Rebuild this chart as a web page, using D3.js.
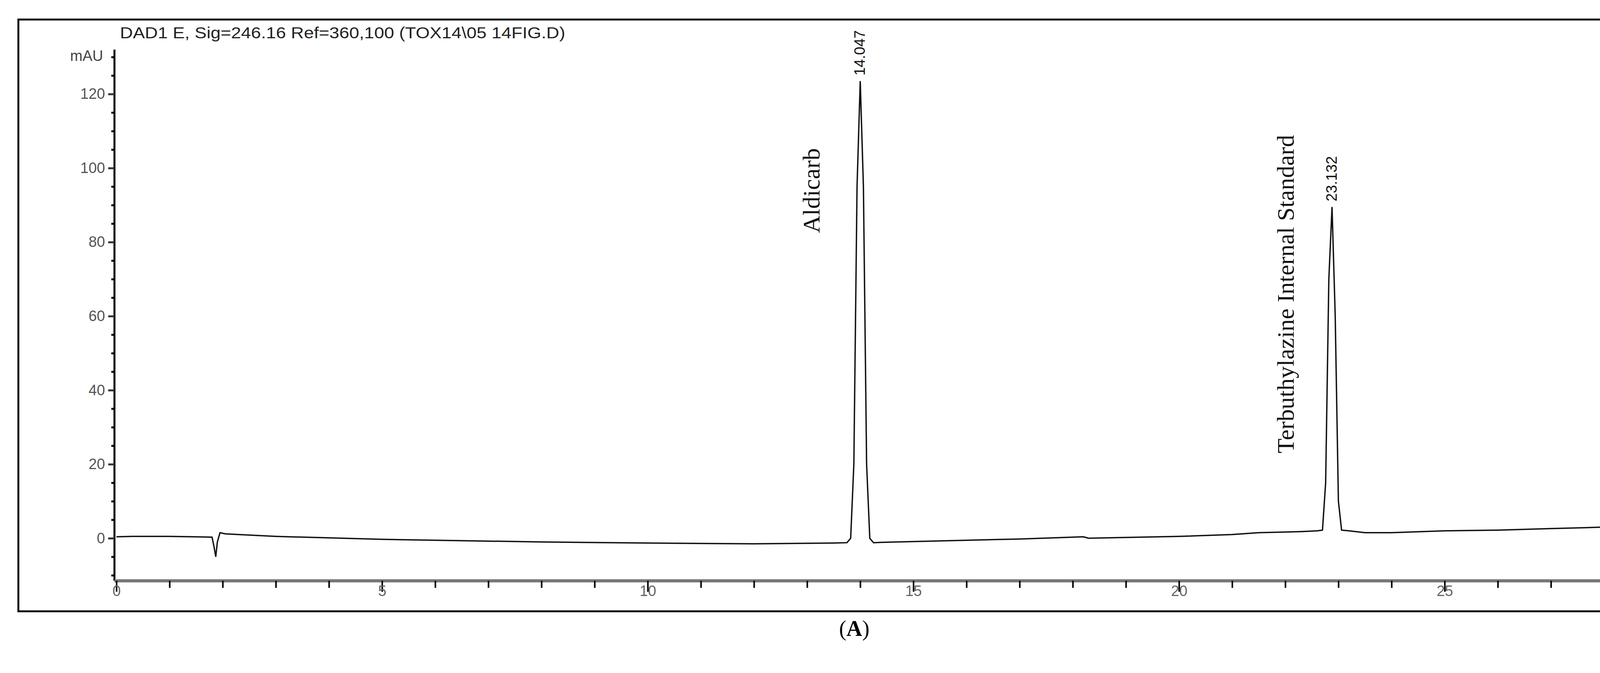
<!DOCTYPE html>
<html><head><meta charset="utf-8">
<script src="https://cdn.jsdelivr.net/npm/d3@7"></script>
<style>body{margin:0;background:#fff}</style></head>
<body><svg id="c" width="4374" height="1723"></svg>
<script>
const title = "DAD1 E, Sig=246.16 Ref=360,100 (TOX14\\05 14FIG.D)";
const xTicks = [0,5,10,15,20,25];
const yTicks = [0,20,40,60,80,100,120];
const time =   [0,0.3,1.0,1.8,1.84,1.87,1.9,1.95,2.05,2.3,3,5,8,10,12,13.5,13.75,13.82,13.88,13.94,14.0,14.06,14.12,14.18,14.25,14.4,15,17,18.2,18.3,20,21,21.5,22.3,22.6,22.7,22.76,22.82,22.88,22.94,23.0,23.06,23.2,23.5,24,25,26,27,28,29.6];
const signal = [0.4,0.5,0.5,0.3,-2.5,-5,-1,1.5,1.2,1.0,0.5,-0.3,-1.0,-1.3,-1.5,-1.3,-1.2,0,20,95,123.5,95,20,0,-1.2,-1.1,-0.9,-0.2,0.4,0.0,0.5,1,1.5,1.8,2.0,2.2,15,70,89.5,60,10,2.2,2.0,1.5,1.5,2.0,2.2,2.6,3.0,3.4];
const peaks = [{t:14.0, v:123.5, label:"14.047", name:"Aldicarb"},{t:22.88, v:89.5, label:"23.132", name:"Terbuthylazine Internal Standard"}];

const svg = d3.select("#c");
const x = d3.scaleLinear().domain([0,29.6]).range([298,4324]);
const y = d3.scaleLinear().domain([-11.5,132]).range([1487,127]);
const tf = "'Liberation Sans Narrow','Arial Narrow','Liberation Sans',sans-serif";

svg.append("rect").attr("x",47).attr("y",50).attr("width",4283).attr("height",1515)
  .attr("fill","none").attr("stroke","#111").attr("stroke-width",5);

svg.append("text").attr("x",307).attr("y",98).attr("font-family",tf).attr("font-size",40)
  .attr("textLength",1140).attr("lengthAdjust","spacingAndGlyphs").attr("fill","#222").text(title);

// y axis
const ya = svg.append("g").attr("transform","translate(293,0)")
  .call(d3.axisLeft(y).tickValues(yTicks).tickSize(16).tickFormat(d3.format("d")));
ya.select(".domain").attr("d",`M0,${y(132)}V${y(-11.5)}`).attr("stroke","#000").attr("stroke-width",5);
ya.selectAll("text").attr("font-family",tf).attr("font-size",38).attr("fill","#555").attr("x",-24);
ya.selectAll("line").attr("stroke-width",5).attr("stroke","#333");
svg.append("g").attr("transform","translate(293,0)")
  .call(d3.axisLeft(y).tickValues(d3.range(-10,131,5).filter(v=>v%20!==0)).tickSize(8).tickFormat(""))
  .call(g=>{g.select(".domain").remove();g.selectAll("line").attr("stroke-width",5);});
svg.append("text").attr("x",264).attr("y",156).attr("text-anchor","end").attr("font-family",tf).attr("font-size",38).attr("fill","#444").text("mAU");

// x axis
const xa = svg.append("g").attr("transform","translate(0,1487)")
  .call(d3.axisBottom(x).tickValues(xTicks).tickSize(28).tickFormat(d3.format("d")));
xa.select(".domain").attr("d",`M293,0H4330`).attr("stroke","#777").attr("stroke-width",8);
xa.selectAll("text").attr("font-family",tf).attr("font-size",38).attr("fill","#666").attr("dy","0.2em");
xa.selectAll("line").attr("stroke-width",4);
svg.append("g").attr("transform","translate(0,1487)")
  .call(d3.axisBottom(x).tickValues(d3.range(1,30,1).filter(v=>v%5!==0)).tickSize(18).tickFormat(""))
  .call(g=>{g.select(".domain").remove();g.selectAll("line").attr("stroke-width",4);});
svg.append("text").attr("x",4322).attr("y",1555).attr("text-anchor","end").attr("font-family",tf).attr("font-size",38).attr("fill","#444").text("min");

// signal
svg.append("path").datum(time.map((t,i)=>[t,signal[i]]))
  .attr("d",d3.line().x(d=>x(d[0])).y(d=>y(d[1])))
  .attr("fill","none").attr("stroke","#111").attr("stroke-width",3.5);

// peak labels
peaks.forEach((p,i)=>{
  svg.append("text").attr("transform",`translate(${x(p.t)+12},${y(p.v)-14}) rotate(-90)`)
    .attr("font-family",tf).attr("font-size",38).attr("fill","#111").text(p.label);
});
svg.append("text").attr("transform",`translate(2098,488) rotate(-90)`).attr("text-anchor","middle")
  .attr("font-family","'Liberation Serif','Times New Roman',serif").attr("font-size",62).attr("fill","#111").text(peaks[0].name);
svg.append("text").attr("transform",`translate(3312,753) rotate(-90)`).attr("text-anchor","middle")
  .attr("font-family","'Liberation Serif','Times New Roman',serif").attr("font-size",62).attr("fill","#111").text(peaks[1].name);

// caption
const cap = svg.append("text").attr("x",2187).attr("y",1628).attr("text-anchor","middle")
  .attr("font-family","'Liberation Serif','Times New Roman',serif").attr("font-size",56).attr("fill","#000");
cap.append("tspan").text("(");
cap.append("tspan").attr("font-weight","bold").text("A");
cap.append("tspan").text(")");
</script></body></html>
